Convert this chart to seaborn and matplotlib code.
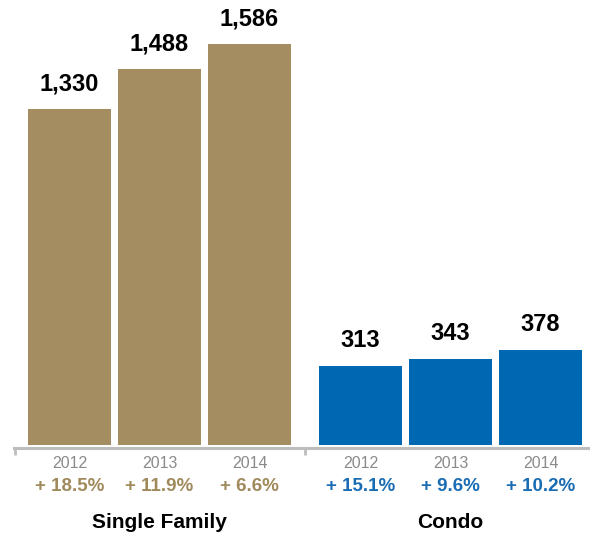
import matplotlib
matplotlib.use("Agg")
import matplotlib.pyplot as plt
from matplotlib.lines import Line2D
import seaborn as sns
import pandas as pd

# Sales by segment and year
segments = ["Single Family", "Condo"]
years = ["2012", "2013", "2014"]
single_family = [1330, 1488, 1586]
condo = [313, 343, 378]
sf_change = ["+ 18.5%", "+ 11.9%", "+ 6.6%"]
condo_change = ["+ 15.1%", "+ 9.6%", "+ 10.2%"]

GOLD = "#A38D61"
BLUE = "#0067B2"
GOLD_TXT = "#A08A5C"
BLUE_TXT = "#1A6DB4"
GRAY = "#BDBDBD"

# slot positions: three bars per segment, wider gap between segments
group_offset = 3.233
xpos = [0, 1, 2] + [group_offset + i for i in range(3)]

df = pd.DataFrame({
    "x": xpos,
    "value": single_family + condo,
    "segment": [segments[0]] * 3 + [segments[1]] * 3,
})

sns.set_theme(style="white")
plt.rcParams["font.family"] = ["Liberation Sans", "DejaVu Sans"]

fig = plt.figure(figsize=(5.9, 5.35), dpi=100)
ax = fig.add_axes([14 / 590, 1 - 448 / 535, 576 / 590, 448 / 535])

sns.barplot(data=df, x="x", y="value", hue="segment", native_scale=True,
            palette={segments[0]: GOLD, segments[1]: BLUE}, width=0.92,
            saturation=1, legend=False, ax=ax, linewidth=0)

ax.set_xlim(-0.617, 5.783)
ax.set_ylim(-10, 1762)

for spine in ["top", "right", "left"]:
    ax.spines[spine].set_visible(False)
ax.spines["bottom"].set_color(GRAY)
ax.spines["bottom"].set_linewidth(2.2)

ax.set_yticks([])
ax.set_xticks(xpos)
ax.set_xticklabels(years * 2, fontsize=11.5, color="#8A8A8A")
ax.tick_params(axis="x", which="major", length=0, pad=6)
ax.set_xlabel("")
ax.set_ylabel("")

# short separator ticks below the baseline
for tx in [-0.617 + 0.01, (2 + group_offset) / 2]:
    ax.add_line(Line2D([tx, tx], [0, -7 / 448], transform=ax.get_xaxis_transform(),
                       color=GRAY, linewidth=2, clip_on=False,
                       solid_capstyle="butt"))

# value labels above each bar
for cont in ax.containers:
    vals = [int(round(b.get_height())) for b in cont]
    ax.bar_label(cont, labels=[f"{v:,}" for v in vals], padding=10,
                 fontsize=17, fontweight="bold", color="black")

# year-over-year change under each year
for x, txt in zip(xpos[:3], sf_change):
    ax.annotate(txt, xy=(x, 0), xycoords=("data", "axes fraction"),
                xytext=(0, -28), textcoords="offset points",
                ha="center", va="center", fontsize=13.5, fontweight="bold",
                color=GOLD_TXT)
for x, txt in zip(xpos[3:], condo_change):
    ax.annotate(txt, xy=(x, 0), xycoords=("data", "axes fraction"),
                xytext=(0, -28), textcoords="offset points",
                ha="center", va="center", fontsize=13.5, fontweight="bold",
                color=BLUE_TXT)

# segment names
for cx, name in zip([1, group_offset + 1], segments):
    ax.annotate(name, xy=(cx, 0), xycoords=("data", "axes fraction"),
                xytext=(0, -54), textcoords="offset points",
                ha="center", va="center", fontsize=15, fontweight="bold",
                color="black")

fig.savefig("out.png", dpi=100)
